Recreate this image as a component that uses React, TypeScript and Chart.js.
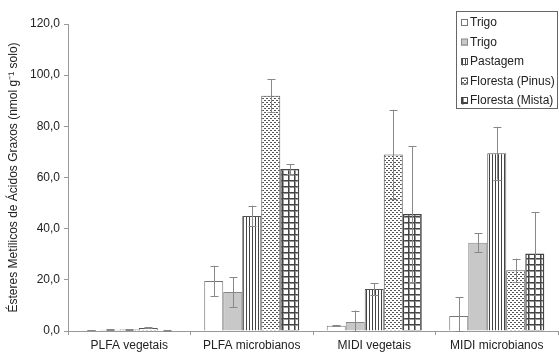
import React, { useEffect, useRef } from "react";
import { Chart, registerables } from "chart.js";

Chart.register(...registerables);

const categories = ["PLFA vegetais", "PLFA microbianos", "MIDI vegetais", "MIDI microbianos"];
const seriesNames = ["Trigo", "Trigo", "Pastagem", "Floresta (Pinus)", "Floresta (Mista)"];
const trigoA = [0.3, 19.5, 2.1, 5.9];
const trigoB = [0.5, 15.2, 3.5, 34.5];
const pastagem = [0.6, 45.0, 16.4, 69.5];
const pinus = [1.2, 92.0, 69.0, 23.7];
const mista = [0.2, 63.3, 45.7, 30.3];
const errTrigoA = [0.1, 6.0, 0.3, 7.4];
const errTrigoB = [0.1, 5.8, 4.5, 3.8];
const errPastagem = [0.1, 4.0, 2.3, 10.3];
const errPinus = [0.2, 6.5, 17.5, 4.6];
const errMista = [0.1, 2.0, 26.5, 16.2];
const yTicks = [0, 20, 40, 60, 80, 100, 120];

const FONT = "'Liberation Sans', Arial, sans-serif";

function makePattern(kind: string): CanvasPattern | string {
  const c = document.createElement("canvas");
  const ctx = c.getContext("2d")!;
  if (kind === "white") return "#ffffff";
  if (kind === "gray") return "#c8c8c8";
  if (kind === "vlines") {
    c.width = 3; c.height = 3;
    ctx.fillStyle = "#fff"; ctx.fillRect(0, 0, 3, 3);
    ctx.fillStyle = "#444"; ctx.fillRect(0, 0, 1, 3);
  } else if (kind === "dots") {
    c.width = 4; c.height = 4;
    ctx.fillStyle = "#fff"; ctx.fillRect(0, 0, 4, 4);
    ctx.fillStyle = "#555"; ctx.fillRect(0, 0, 2, 1); ctx.fillRect(2, 2, 2, 1);
  } else {
    c.width = 6; c.height = 6;
    ctx.fillStyle = "#fff"; ctx.fillRect(0, 0, 6, 6);
    ctx.fillStyle = "#999"; ctx.fillRect(1, 0, 1, 6); ctx.fillRect(0, 1, 6, 1);
    ctx.fillStyle = "#444"; ctx.fillRect(0, 0, 1, 6); ctx.fillRect(0, 0, 6, 1);
  }
  return ctx.createPattern(c, "repeat")!;
}

export default function App() {
  const ref = useRef<HTMLCanvasElement>(null);
  useEffect(() => {
    const fills = [
      makePattern("white"),
      makePattern("gray"),
      makePattern("vlines"),
      makePattern("dots"),
      makePattern("grid"),
    ];
    const borders = ["#777", "#888", "#555", "#555", "#444"];
    const values = [trigoA, trigoB, pastagem, pinus, mista];
    const errors = [errTrigoA, errTrigoB, errPastagem, errPinus, errMista];

    const errorBars = {
      id: "errorBars",
      afterDatasetsDraw(chart: any) {
        const ctx = chart.ctx;
        const ys = chart.scales.y;
        ctx.save();
        ctx.strokeStyle = "#888";
        ctx.lineWidth = 1;
        chart.data.datasets.forEach((ds: any, i: number) => {
          const meta = chart.getDatasetMeta(i);
          meta.data.forEach((el: any, j: number) => {
            const v = ds.data[j];
            const e = errors[i][j];
            const x = Math.round(el.x) + 0.5;
            const yt = ys.getPixelForValue(v + e);
            const yb = ys.getPixelForValue(Math.max(0, v - e));
            ctx.beginPath();
            ctx.moveTo(x, yt); ctx.lineTo(x, yb);
            ctx.moveTo(x - 4, Math.round(yt) + 0.5); ctx.lineTo(x + 4, Math.round(yt) + 0.5);
            ctx.moveTo(x - 4, Math.round(yb) + 0.5); ctx.lineTo(x + 4, Math.round(yb) + 0.5);
            ctx.stroke();
          });
        });
        ctx.restore();
      },
    };

    const legendBox = {
      id: "legendBox",
      afterDraw(chart: any) {
        const ctx = chart.ctx;
        ctx.save();
        const left = 456.5, top = 11.5, w = 101, h = 97;
        ctx.strokeStyle = "#666";
        ctx.lineWidth = 1;
        ctx.fillStyle = "#fff";
        ctx.fillRect(left, top, w, h);
        ctx.strokeRect(left, top, w, h);
        ctx.font = `12px ${FONT}`;
        ctx.textBaseline = "middle";
        seriesNames.forEach((name, i) => {
          const cy = 23 + i * 19.5;
          ctx.fillStyle = fills[i] as any;
          ctx.fillRect(461, cy - 3.5, 7, 7);
          ctx.strokeStyle = borders[i];
          ctx.strokeRect(461.5, cy - 3.5, 6, 6);
          ctx.fillStyle = "#222";
          ctx.fillText(name, 470, cy);
        });
        ctx.restore();
      },
    };

    const chart = new Chart(ref.current!, {
      type: "bar",
      data: {
        labels: categories,
        datasets: seriesNames.map((n, i) => ({
          label: n,
          data: values[i],
          backgroundColor: fills[i] as any,
          borderColor: borders[i],
          borderWidth: i === 4 ? 1.5 : 1,
          categoryPercentage: 0.776,
          barPercentage: 1,
        })),
      },
      options: {
        responsive: false,
        animation: false,
        layout: { padding: { left: 0, right: 1, top: 24, bottom: 0 } },
        plugins: { legend: { display: false }, tooltip: { enabled: false } },
        scales: {
          x: {
            grid: { display: true, drawOnChartArea: false, drawTicks: true, tickLength: 4, color: "#999", offset: true },
            border: { display: true, color: "#999" },
            ticks: { color: "#222", font: { family: FONT, size: 12 }, padding: 3, maxRotation: 0 },
            afterFit(scale: any) { scale.height = 25; },
          },
          y: {
            min: 0,
            max: 120,
            afterBuildTicks(scale: any) { scale.ticks = yTicks.map((v) => ({ value: v })); },
            grid: { display: true, drawOnChartArea: false, drawTicks: true, tickLength: 4, color: "#999" },
            border: { display: true, color: "#999" },
            ticks: {
              color: "#222",
              font: { family: FONT, size: 12 },
              padding: 4,
              callback: (v: any) => Number(v).toFixed(1).replace(".", ","),
            },
            title: {
              display: true,
              text: "Ésteres Metílicos de Ácidos Graxos (nmol g⁻¹ solo)",
              color: "#222",
              font: { family: FONT, size: 12 },
              padding: { top: 6, bottom: 0 },
            },
            afterFit(scale: any) { scale.width = 68; },
          },
        },
      },
      plugins: [errorBars, legendBox],
    });
    return () => chart.destroy();
  }, []);
  return (
    <div style={{ position: "fixed", left: 0, top: 0, width: 559, height: 356, background: "#fff" }}>
      <canvas ref={ref} width={559} height={356} />
    </div>
  );
}
